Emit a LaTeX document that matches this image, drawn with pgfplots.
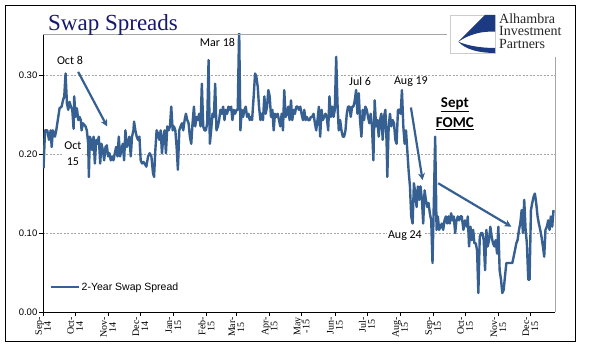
\documentclass[border=0pt]{standalone}
\usepackage{pgfplots}
\pgfplotsset{compat=1.18}
\usepackage{fontspec}
\usetikzlibrary{arrows.meta}
\setmainfont{Liberation Sans}
\newfontfamily\serif{Liberation Serif}
\newfontfamily\cali{Carlito}
\definecolor{swapblue}{RGB}{55,96,146}
\definecolor{ttl}{RGB}{24,24,110}
\definecolor{logob}{RGB}{28,58,130}
\pgfplotstableread{
x y
0.5 0.182
1.9 0.230
4.0 0.230
5.6 0.218
7.2 0.230
8.1 0.209
9.3 0.230
11.2 0.222
12.4 0.230
14.3 0.247
15.5 0.258
17.4 0.260
18.7 0.268
19.9 0.273
21.1 0.302
22.4 0.264
23.6 0.256
24.9 0.266
26.1 0.260
27.4 0.256
28.6 0.232
29.2 0.273
30.5 0.247
31.7 0.258
33.0 0.243
34.2 0.247
35.4 0.243
36.1 0.230
37.3 0.239
38.6 0.237
39.8 0.235
41.0 0.230
42.3 0.213
42.9 0.171
43.8 0.222
44.8 0.218
46.0 0.205
47.3 0.222
48.5 0.188
49.8 0.218
51.0 0.213
52.2 0.222
53.5 0.188
54.7 0.213
56.0 0.205
57.2 0.192
58.5 0.209
59.7 0.211
60.9 0.197
62.2 0.201
63.4 0.192
64.7 0.197
65.9 0.192
67.2 0.201
68.4 0.209
69.7 0.197
70.9 0.222
72.1 0.197
73.4 0.205
74.6 0.213
75.9 0.192
77.1 0.230
78.4 0.209
79.6 0.213
80.8 0.222
82.1 0.197
83.3 0.222
84.6 0.230
85.2 0.241
86.4 0.230
87.7 0.222
88.9 0.218
90.2 0.222
91.4 0.192
92.7 0.188
93.9 0.190
95.1 0.188
96.7 0.184
98.3 0.197
99.8 0.201
101.4 0.197
102.9 0.176
103.9 0.171
105.1 0.205
106.3 0.230
107.6 0.226
108.8 0.218
110.1 0.230
111.3 0.201
112.6 0.222
113.8 0.230
115.0 0.201
116.3 0.235
117.5 0.230
118.8 0.235
120.0 0.260
121.3 0.230
122.5 0.235
123.8 0.230
125.0 0.209
126.2 0.180
127.5 0.230
128.7 0.235
130.0 0.239
131.2 0.230
132.5 0.243
133.7 0.251
135.0 0.243
136.2 0.239
137.4 0.222
138.7 0.213
139.9 0.239
141.2 0.260
142.4 0.235
143.7 0.247
144.9 0.243
146.1 0.251
147.4 0.235
148.6 0.289
149.9 0.235
151.1 0.230
152.4 0.230
153.6 0.239
154.9 0.319
156.1 0.213
157.3 0.230
158.6 0.251
159.8 0.247
161.1 0.289
162.3 0.230
163.6 0.235
164.8 0.243
166.0 0.256
167.3 0.251
168.5 0.260
169.8 0.243
171.0 0.256
172.3 0.251
173.5 0.260
174.7 0.256
176.0 0.260
177.2 0.243
178.5 0.256
179.7 0.251
181.0 0.256
182.2 0.256
183.5 0.360
184.7 0.230
185.9 0.256
187.2 0.247
188.4 0.256
189.7 0.260
190.9 0.247
192.2 0.251
193.4 0.243
194.7 0.247
195.6 0.243
197.1 0.273
198.4 0.302
199.6 0.298
200.9 0.285
202.1 0.260
203.4 0.243
204.6 0.251
205.8 0.243
207.1 0.273
208.3 0.251
209.6 0.260
210.8 0.281
212.1 0.273
213.3 0.247
214.6 0.256
215.8 0.230
217.0 0.251
218.3 0.247
219.5 0.251
220.8 0.243
222.0 0.235
223.3 0.251
224.5 0.230
225.7 0.281
227.0 0.247
228.2 0.251
229.5 0.260
230.7 0.243
232.0 0.268
233.2 0.243
234.5 0.256
235.7 0.251
236.9 0.260
238.2 0.260
239.4 0.256
240.7 0.260
241.9 0.251
243.2 0.243
244.4 0.256
245.6 0.243
246.9 0.247
248.1 0.243
249.4 0.243
250.6 0.247
251.9 0.247
253.1 0.251
254.4 0.239
255.6 0.230
256.8 0.243
258.1 0.260
259.3 0.222
260.6 0.256
261.8 0.243
263.1 0.247
264.3 0.251
265.5 0.247
266.8 0.230
268.0 0.273
269.3 0.247
270.5 0.260
271.8 0.247
273.0 0.256
274.3 0.323
275.5 0.264
276.7 0.230
278.0 0.243
279.2 0.230
280.5 0.222
281.7 0.222
283.0 0.230
284.2 0.251
285.4 0.260
286.7 0.260
287.9 0.247
289.2 0.260
290.4 0.260
291.7 0.268
292.9 0.281
294.2 0.251
295.4 0.277
296.6 0.243
297.9 0.222
299.1 0.256
300.4 0.243
301.6 0.260
302.9 0.256
304.1 0.247
305.3 0.239
306.6 0.251
307.8 0.235
309.1 0.192
310.3 0.268
311.6 0.235
312.8 0.243
314.1 0.222
315.3 0.243
316.5 0.251
317.8 0.218
319.0 0.247
320.3 0.256
321.5 0.213
322.1 0.171
323.4 0.235
324.6 0.251
325.9 0.235
327.1 0.243
328.4 0.239
329.6 0.218
330.8 0.213
332.1 0.256
333.3 0.256
334.6 0.251
335.8 0.281
337.1 0.235
338.3 0.213
339.6 0.230
340.8 0.205
342.0 0.180
343.3 0.159
344.5 0.121
345.8 0.112
347.0 0.163
348.3 0.150
349.5 0.133
350.7 0.159
352.0 0.142
353.2 0.159
354.5 0.142
355.7 0.112
357.0 0.154
358.2 0.142
359.5 0.133
360.7 0.138
361.9 0.125
363.2 0.116
364.4 0.062
365.7 0.142
366.9 0.222
368.2 0.104
369.4 0.121
370.6 0.104
371.9 0.108
373.1 0.112
374.4 0.104
375.6 0.116
376.9 0.121
378.1 0.112
379.4 0.121
380.6 0.112
381.8 0.125
383.1 0.116
384.3 0.121
385.6 0.100
386.8 0.116
388.1 0.121
389.3 0.116
390.6 0.121
391.8 0.121
393.3 0.104
394.9 0.116
396.5 0.108
397.4 0.121
398.6 0.083
399.9 0.108
401.1 0.091
402.4 0.104
403.6 0.087
404.9 0.087
406.1 0.078
407.3 0.024
408.6 0.095
409.8 0.100
411.1 0.100
412.3 0.091
413.6 0.053
414.8 0.104
416.0 0.083
417.3 0.091
418.5 0.108
419.8 0.095
421.0 0.087
422.3 0.083
423.5 0.091
424.8 0.074
426.0 0.108
427.2 0.053
428.5 0.041
429.7 0.024
431.0 0.028
432.2 0.045
433.5 0.062
434.7 0.062
435.9 0.062
437.2 0.062
439.1 0.062
440.3 0.070
441.5 0.078
442.8 0.087
444.0 0.091
445.3 0.104
446.5 0.112
447.8 0.129
449.0 0.100
450.2 0.142
451.5 0.104
452.7 0.087
454.0 0.041
455.2 0.041
456.5 0.129
457.7 0.138
459.0 0.146
460.2 0.150
461.4 0.138
462.7 0.121
463.9 0.112
465.2 0.104
466.4 0.095
467.7 0.083
468.9 0.070
470.1 0.104
471.4 0.108
472.6 0.116
473.9 0.104
475.1 0.121
476.4 0.108
477.6 0.129
}\swapdata
\begin{document}
\begin{tikzpicture}
\fill[white] (0pt,0pt) rectangle (598pt,361pt);
\begin{axis}[
  at={(43pt,49pt)}, anchor=south west,
  scale only axis, width=512pt, height=278pt,
  xmin=0, xmax=479, ymin=0, ymax=0.352,
  clip mode=individual,
  axis x line*=bottom, axis y line*=left,
  axis line style={black, line width=0.8pt, -},
  tick align=outside, major tick length=4pt,
  tick style={black, line width=0.6pt},
  xtick={0,30,61,91,122,153,181,212,242,273,303,334,365,395,426,456},
  xticklabels={{Sep-\\14},{Oct-\\14},{Nov-\\14},{Dec-\\14},{Jan-\\15},{Feb-\\15},{Mar-\\15},{Apr-\\15},{May\\-15},{Jun-\\15},{Jul-\\15},{Aug-\\15},{Sep-\\15},{Oct-\\15},{Nov-\\15},{Dec-\\15}},
  xticklabel style={rotate=90, anchor=east, align=center, font=\serif\fontsize{10}{9}\selectfont, inner sep=1pt},
  ytick={0,0.1,0.2,0.3},
  yticklabels={0.00,0.10,0.20,0.30},
  yticklabel style={font=\fontsize{9.5}{10}\selectfont, inner sep=1.5pt},
  ymajorgrids, grid style={gray!70, line width=0.5pt, dash pattern=on 2pt off 1.5pt},
  legend style={at={(0.012,0.09)}, anchor=west, draw=none, fill=none, font=\fontsize{10.5}{11}\selectfont, inner sep=0pt, legend cell align=left},
  legend image code/.code={\draw[#1, line width=2.4pt] (0pt,0pt) -- (28pt,0pt);},
]
\addplot[color=swapblue, line width=2.4pt, line join=round, mark=none] table[x=x, y=y] {\swapdata};
\addlegendentry{2-Year Swap Spread}
\node[font=\cali\fontsize{12}{12}\selectfont] at (axis cs:25.2,0.318) {Oct 8};
\node[font=\cali\fontsize{12}{16}\selectfont, align=center, fill=white, inner sep=1pt] at (axis cs:28,0.200) {Oct\\15};
\node[font=\cali\fontsize{12}{12}\selectfont] at (axis cs:163.2,0.341) {Mar 18};
\node[font=\cali\fontsize{12}{12}\selectfont] at (axis cs:296.6,0.292) {Jul 6};
\node[font=\cali\fontsize{12}{12}\selectfont] at (axis cs:344.2,0.292) {Aug 19};
\node[font=\cali\bfseries\fontsize{15}{15}\selectfont] at (axis cs:385.3,0.263) {\underline{Sept}};
\node[font=\cali\bfseries\fontsize{15}{15}\selectfont] at (axis cs:385.3,0.238) {\underline{FOMC}};
\node[font=\cali\fontsize{12}{12}\selectfont, fill=white, inner sep=1pt] at (axis cs:338.6,0.097) {Aug 24};
\draw[color=swapblue, line width=2.2pt, -{Stealth[length=7pt,width=7pt]}] (axis cs:32.9,0.304) -- (axis cs:60.0,0.235);
\draw[color=swapblue, line width=2.2pt, -{Stealth[length=7pt,width=7pt]}] (axis cs:344.2,0.259) -- (axis cs:355.1,0.167);
\draw[color=swapblue, line width=2.2pt, -{Stealth[length=7pt,width=7pt]}] (axis cs:369.7,0.163) -- (axis cs:438.2,0.108);
\end{axis}
% gray top and right border of the plot area
\draw[gray!70, line width=0.7pt] (43pt,327pt) -- (555pt,327pt) -- (555pt,49pt);
% logo box
\fill[white] (447pt,304pt) rectangle (575pt,354pt);
\draw[gray!40, line width=0.6pt] (450pt,308pt) rectangle (495pt,346pt);
\fill[logob] (495pt,346pt) -- (485pt,346pt) -- (458.3pt,319.3pt) .. controls (470pt,327pt) and (482pt,330pt) .. (495pt,329.3pt) -- cycle;
\fill[logob] (458.3pt,319.3pt) .. controls (466pt,311pt) and (480pt,308pt) .. (495pt,308pt) -- (495pt,313pt) .. controls (482pt,313pt) and (468pt,315pt) .. (458.3pt,319.3pt) -- cycle;
\node[anchor=north west, font=\serif\fontsize{14}{12}\selectfont, text=black!85, inner sep=0pt] at (499pt,347.5pt) {Alhambra};
\node[anchor=north west, font=\serif\fontsize{14}{12}\selectfont, text=black!85, inner sep=0pt] at (499pt,334.5pt) {Investment};
\node[anchor=north west, font=\serif\fontsize{14}{12}\selectfont, text=black!85, inner sep=0pt] at (499pt,322pt) {Partners};
% title
\node[anchor=base west, font=\serif\fontsize{23}{23}\selectfont, text=ttl, inner sep=0pt] at (48pt,330pt) {Swap Spreads};
% outer frame
\draw[black, line width=1pt] (5.5pt,19pt) rectangle (575.5pt,355pt);
\end{tikzpicture}
\end{document}
